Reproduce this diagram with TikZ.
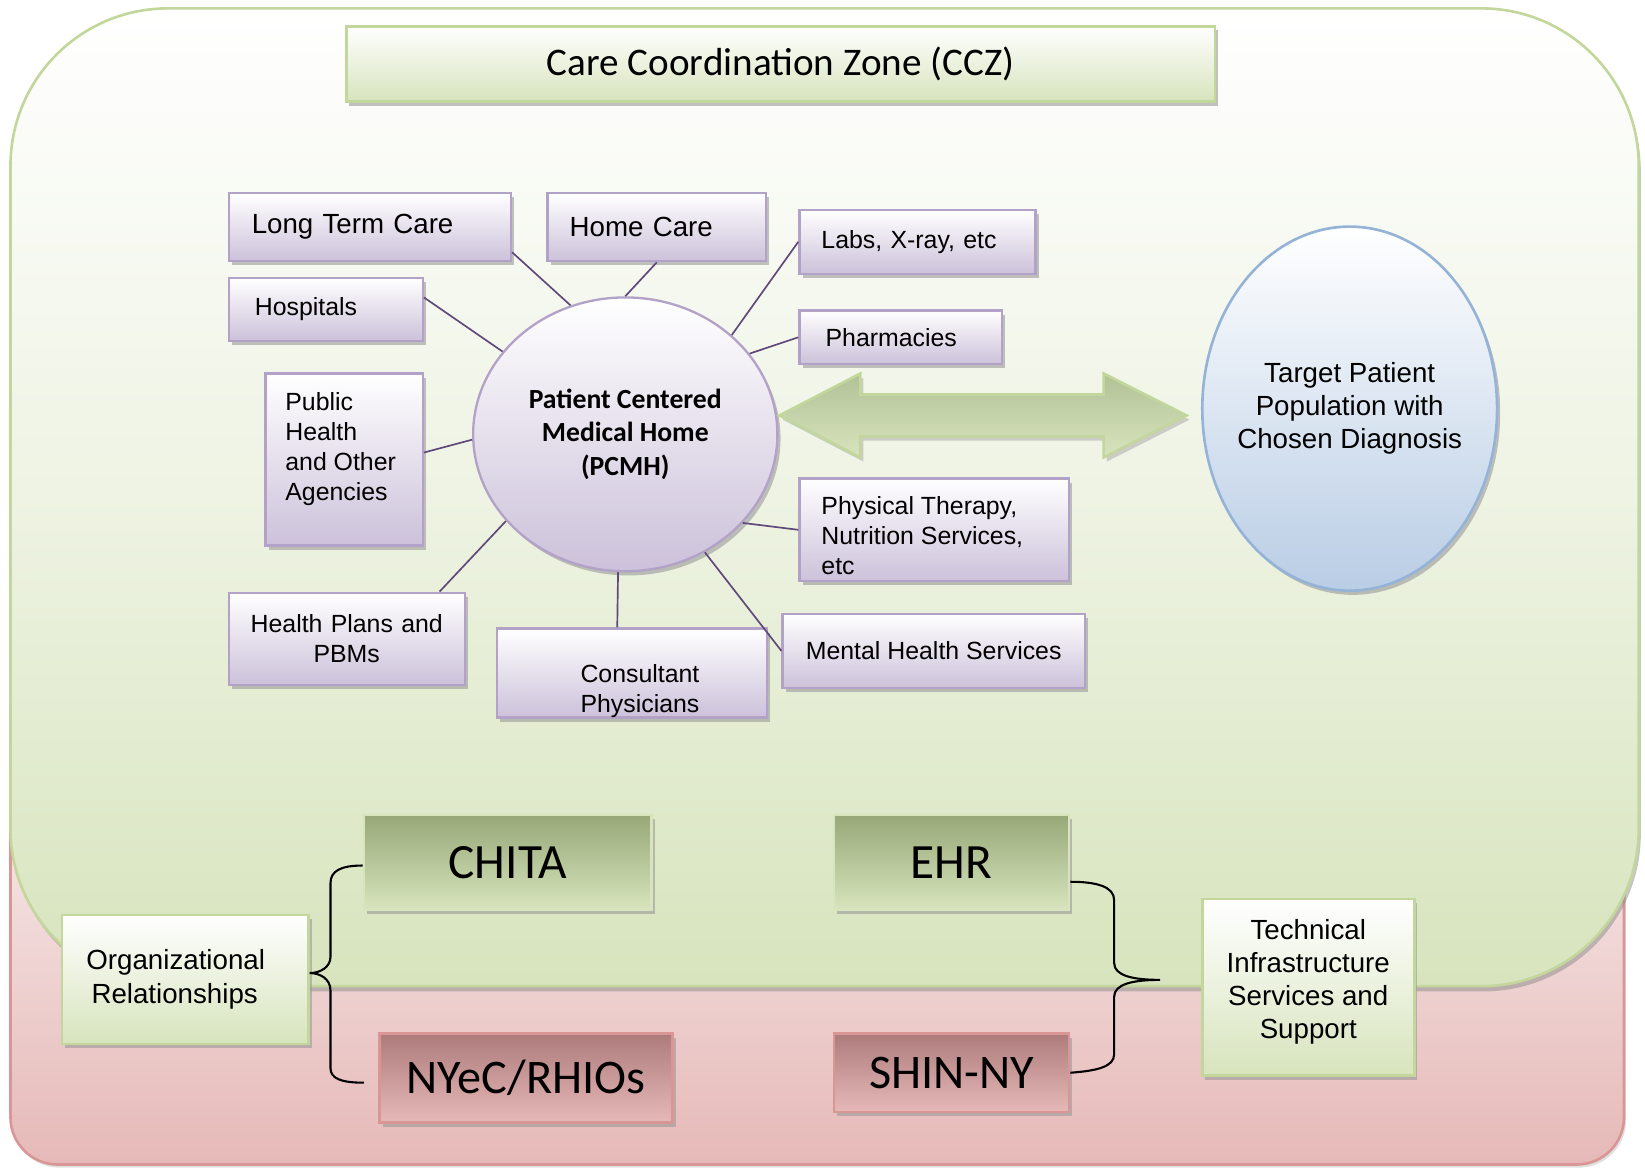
\documentclass[tikz,border=0pt]{standalone}
\usepackage{fontspec}
\setmainfont{Liberation Sans}
\newfontfamily\calibri{Carlito}
\usepackage{tikz}
\usetikzlibrary{shapes.geometric,shadows}

\definecolor{zoneline}{HTML}{C3D69B}
\definecolor{zonebot}{HTML}{D7E4BD}
\definecolor{zonemid}{HTML}{EEF3E3}
\definecolor{pinkline}{HTML}{D99694}
\definecolor{pinktop}{HTML}{F9F1F1}
\definecolor{pinkbot}{HTML}{E6B9B8}
\definecolor{lilacline}{HTML}{B3A2C7}
\definecolor{lilacbot}{HTML}{CCC1DA}
\definecolor{linkcol}{HTML}{5F497A}
\definecolor{blueline}{HTML}{95B3D7}
\definecolor{bluebot}{HTML}{B9CDE5}
\definecolor{olivetop}{HTML}{98A878}
\definecolor{rosetop}{HTML}{AD7B7B}
\definecolor{arrowtop}{HTML}{B3C197}

\begin{document}
\begin{tikzpicture}[x=1pt,y=-1pt,
	boxshadow/.style={drop shadow={shadow xshift=3pt,shadow yshift=-4pt,fill=black!40,opacity=.6}},
	lilac/.style={draw=lilacline,line width=2.2pt,top color=white,bottom color=lilacbot,boxshadow,inner ysep=0pt},
	big/.style={font=\fontsize{26.4}{31.6}\selectfont},
	small/.style={font=\fontsize{23.7}{28.5}\selectfont},
	link/.style={draw=linkcol,line width=1.6pt},
	greenbox/.style={draw=zoneline,line width=2.5pt,top color=white,bottom color=zonebot,boxshadow,align=center,inner sep=0pt,font=\fontsize{26.4}{31.7}\selectfont},
	olivebox/.style={draw=zonebot,line width=2.5pt,top color=olivetop,bottom color=zonebot,boxshadow,inner sep=0pt,font=\calibri\fontsize{47}{52}\selectfont},
	rosebox/.style={draw=pinkline,line width=2.5pt,top color=rosetop,bottom color=pinkbot,boxshadow,inner sep=0pt,font=\calibri\fontsize{46}{52}\selectfont},
	brace/.style={draw=black,line width=2pt}]
	\useasboundingbox (0,0) rectangle (1568,1114);

	\draw[draw=pinkline,line width=2.5pt,top color=pinktop,bottom color=pinkbot,rounded corners=45pt,
		drop shadow={shadow xshift=2pt,shadow yshift=-3pt,fill=black!30,opacity=.4}] (10,700) rectangle (1548,1110);
	\draw[draw=zoneline,line width=2.5pt,top color=white,bottom color=zonebot,middle color=zonemid,rounded corners=150pt,
		drop shadow={shadow xshift=2pt,shadow yshift=-5pt,fill=black!45,opacity=.5}] (10,8) rectangle (1562,940);

	\node[greenbox,minimum width=828pt,minimum height=72pt,font=\calibri\fontsize{37.3}{44}\selectfont] (ccz) at (744,61) {Care Coordination Zone (CCZ)};

	\node[ellipse,lilac,minimum width=290pt,minimum height=261pt,align=center,font=\calibri\bfseries\fontsize{26.4}{31.5}\selectfont] (pcmh) at (596,414) {Patient Centered\\Medical Home\\(PCMH)};
	\node[ellipse,draw=blueline,line width=2.5pt,top color=white,bottom color=bluebot,boxshadow,inner xsep=-30pt,inner ysep=0pt,minimum width=281pt,minimum height=347pt,align=center,big] (target) at (1286.5,389.5) {Target Patient\\Population with\\Chosen Diagnosis};

	\node[lilac,big,align=left,text width=225pt,inner xsep=22pt,minimum height=65pt] (ltc) at (352.5,216.5) {Long Term Care};
	\node[lilac,big,align=left,text width=166pt,inner xsep=21pt,minimum height=65pt] (home) at (626,216.5) {Home Care};
	\node[lilac,small,align=left,text width=183pt,inner xsep=21pt,minimum height=61pt] (labs) at (874.5,230.5) {Labs, X-ray, etc};
	\node[lilac,small,align=left,text width=135pt,inner xsep=25pt,minimum height=60pt] (hosp) at (310.5,295) {Hospitals};
	\node[lilac,small,align=left,text width=143pt,inner xsep=25pt,minimum height=51pt] (pharm) at (858.5,321.5) {Pharmacies};
	\node[lilac,small,inner xsep=19pt,minimum height=164pt] (pub) at (328,438) {\parbox[c][128pt][t]{112pt}{Public\\Health\\and Other\\Agencies}};
	\node[lilac,small,align=center,text width=205pt,inner xsep=10pt,minimum height=88pt] (hplans) at (330.5,609) {Health Plans and\\PBMs};
	\node[lilac,small,inner xsep=10pt,minimum height=83pt] (consult) at (602.5,641.5) {\parbox[c][80pt][b]{237pt}{\centering\hspace*{15pt}Consultant\\\hspace*{15pt}Physicians}};
	\node[lilac,small,minimum width=288pt,minimum height=71pt] (mental) at (890,620.5) {Mental Health Services};
	\node[lilac,small,inner xsep=21pt,minimum height=98pt] (pt) at (890.5,505) {\parbox[c][86pt][b]{215pt}{Physical Therapy,\\Nutrition Services,\\etc}};

	\draw[link] (ltc.-10) -- (pcmh.113);
	\draw[link] (home.south) -- (pcmh.90);
	\draw[link] (labs.west) -- (pcmh.43);
	\draw[link] (hosp.7) -- (pcmh.146);
	\draw[link] (pharm.west) -- (pcmh.33);
	\draw[link] (pub.5) -- (pcmh.182);
	\draw[link] (hplans.27) -- (pcmh.216);
	\draw[link] (consult.108) -- (pcmh.267);
	\draw[link] (mental.west) -- (pcmh.304);
	\draw[link] (pt.west) -- (pcmh.323);

	\draw[draw=zoneline,line width=2.5pt,top color=arrowtop,bottom color=zonebot,
		drop shadow={shadow xshift=3pt,shadow yshift=-4pt,fill=black!35,opacity=.5}]
		(743,396) -- (820,356) -- (820,376) -- (1052,376) -- (1052,356) -- (1131,396)
		-- (1052,436) -- (1052,416) -- (820,416) -- (820,436) -- cycle;

	\node[olivebox,minimum width=274pt,minimum height=90pt] (chita) at (484,822) {CHITA};
	\node[olivebox,minimum width=224pt,minimum height=90pt] (ehr) at (907,822) {EHR};
	\node[rosebox,minimum width=279pt,minimum height=85pt] (nyec) at (501.5,1027.5) {NYeC/RHIOs};
	\node[rosebox,minimum width=224pt,minimum height=75pt] (shin) at (907,1022.5) {SHIN-NY};
	\node[greenbox,minimum width=235pt,minimum height=123pt] (org) at (176.5,933.5) {\parbox{200pt}{\centering Organizational\\Relationships\hspace*{2pt}}\hspace*{18pt}};
	\node[greenbox,minimum width=202pt,minimum height=168pt] (tech) at (1247,941) {\parbox[c][130pt][t]{190pt}{\centering Technical\\Infrastructure\\Services and\\Support}};

	\draw[brace] ([yshift=-3pt]chita.west) .. controls (325,825) and (315,830) .. (315,842) -- (315,912)
		.. controls (315,922) and (305,927.5) .. ([yshift=6pt]org.east)
		.. controls (305,927.5) and (315,933) .. (315,944) -- (315,1018)
		.. controls (315,1028) and (325,1032) .. ([xshift=-14pt,yshift=-4.5pt]nyec.west);
	\draw[brace] ([yshift=-18.5pt]ehr.east) .. controls (1045,840.5) and (1062,845) .. (1062,858) -- (1062,918)
		.. controls (1062,930) and (1080,934) .. ([xshift=-39pt,yshift=7pt]tech.west)
		.. controls (1080,934) and (1062,938) .. (1062,950) -- (1062,1005)
		.. controls (1062,1017) and (1045,1020.7) .. (shin.east);
\end{tikzpicture}
\end{document}
